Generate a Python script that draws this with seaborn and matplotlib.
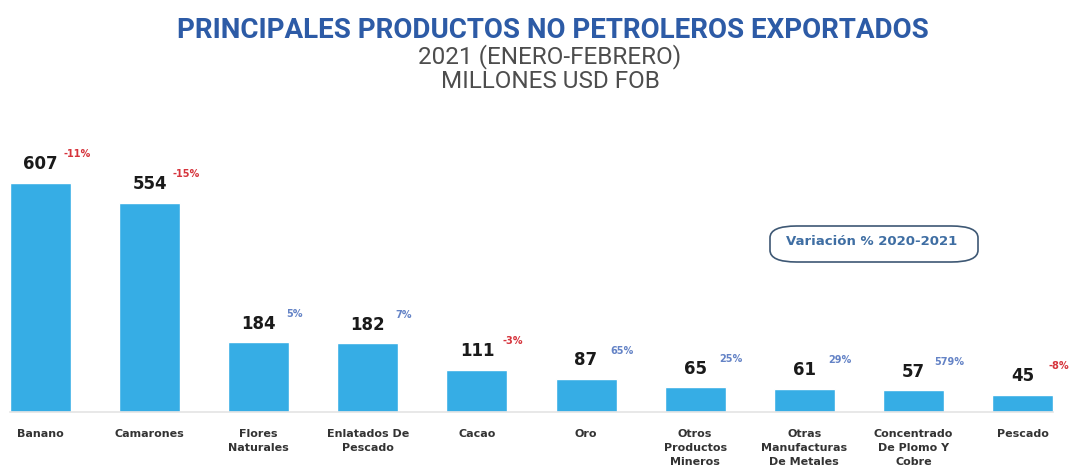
import matplotlib
matplotlib.use("Agg")
import matplotlib.pyplot as plt
import seaborn as sns
import pandas as pd
from matplotlib.patches import FancyBboxPatch

# datos
productos = ["Banano", "Camarones", "Flores\nNaturales", "Enlatados De\nPescado", "Cacao",
             "Oro", "Otros\nProductos\nMineros", "Otras\nManufacturas\nDe Metales",
             "Concentrado\nDe Plomo Y\nCobre", "Pescado"]
valores = [607, 554, 184, 182, 111, 87, 65, 61, 57, 45]
variacion = [-11, -15, 5, 7, -3, 65, 25, 29, 579, -8]

COLOR_BARRA = "#36ade5"
COLOR_NEG = "#d6343c"
COLOR_POS = "#6483c6"

sns.set_style("white")
plt.rcParams["font.family"] = ["DejaVu Sans"]

df = pd.DataFrame({"producto": productos, "valor": valores})

fig = plt.figure(figsize=(10.7, 4.7), dpi=100)
ax = fig.add_axes([10 / 1070, (470 - 412) / 470, 1043 / 1070, (412 - 140) / 470])

sns.barplot(data=df, x="producto", y="valor", color=COLOR_BARRA, width=0.56,
            saturation=1, ax=ax)

ax.set_xlim(-0.28, len(productos) - 1 + 0.28)
ax.set_ylim(0, 720)
ax.set_xlabel("")
ax.set_ylabel("")
ax.set_yticks([])
for s in ["top", "left", "right"]:
    ax.spines[s].set_visible(False)
ax.spines["bottom"].set_color("#e4e4e4")
ax.spines["bottom"].set_linewidth(1.2)
ax.tick_params(axis="x", length=0, pad=12)
for lbl in ax.get_xticklabels():
    lbl.set_fontsize(8)
    lbl.set_fontweight("bold")
    lbl.set_color("#333333")
    lbl.set_linespacing(1.5)
    lbl.set_verticalalignment("top")

for i, (v, p) in enumerate(zip(valores, variacion)):
    ax.annotate(str(v), (i, v), xytext=(0, 7), textcoords="offset points",
                ha="center", va="bottom", fontsize=12, fontweight="bold", color="#1a1a1a")
    col = COLOR_NEG if p < 0 else COLOR_POS
    ax.annotate(f"{p}%", (i, v), xytext=(26, 17), textcoords="offset points",
                ha="center", va="bottom", fontsize=7, fontweight="bold", color=col)

# leyenda de variacion
caja = FancyBboxPatch((770 / 1070, 1 - 262 / 470), 208 / 1070, 36 / 470,
                      boxstyle="round,pad=0,rounding_size=0.025",
                      transform=fig.transFigure, facecolor="white",
                      edgecolor="#3e5874", linewidth=1.2)
fig.patches.append(caja)
fig.text(872 / 1070, 1 - 242 / 470, "Variación % 2020-2021", ha="center", va="center",
         fontsize=9.5, fontweight="bold", color="#3f6ea3")

# titulos
fig.text(0.517, 1 - 30 / 470, "PRINCIPALES PRODUCTOS NO PETROLEROS EXPORTADOS",
         ha="center", va="center", fontsize=20, fontweight="bold", color="#2d5ba6",
         family=["Roboto", "DejaVu Sans"])
fig.text(0.514, 1 - 57 / 470, "2021 (ENERO-FEBRERO)", ha="center", va="center",
         fontsize=17.5, fontweight="normal", color="#4d4d4d", family=["Roboto", "DejaVu Sans"])
fig.text(0.514, 1 - 81 / 470, "MILLONES USD FOB", ha="center", va="center",
         fontsize=17.5, fontweight="normal", color="#4d4d4d", family=["Roboto", "DejaVu Sans"])

fig.savefig("out.png", dpi=100)
